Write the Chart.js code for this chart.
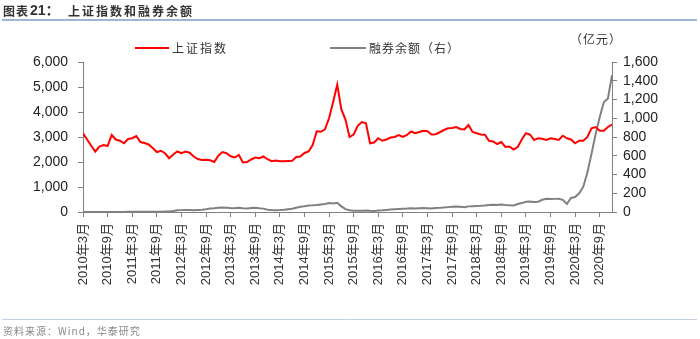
<!DOCTYPE html>
<html>
<head>
<meta charset="utf-8">
<title>上证指数和融券余额</title>
<script src="https://cdn.jsdelivr.net/npm/chart.js@4.4.0/dist/chart.umd.min.js"></script>
<style>
  body { margin: 0; background: #fff; }
  canvas { display: block; }
</style>
</head>
<body>
<canvas id="line_graph" width="700" height="339"></canvas>
<script>
// etichette dell'asse x (una ogni 6 mesi, da 2010年3月)
var tickLabels = [
  "2010年3月", "2010年9月", "2011年3月", "2011年9月", "2012年3月", "2012年9月",
  "2013年3月", "2013年9月", "2014年3月", "2014年9月", "2015年3月", "2015年9月",
  "2016年3月", "2016年9月", "2017年3月", "2017年9月", "2018年3月", "2018年9月",
  "2019年3月", "2019年9月", "2020年3月", "2020年9月"
];
var monthsPerTick = 6;

// 上证指数, un valore al mese da 2010-03 a 2020-12
var indexValues = [
  3150, 2900, 2650, 2420, 2620, 2680, 2640, 3080, 2900, 2850,
  2750, 2920, 2950, 3040, 2800, 2760, 2700, 2560, 2400, 2450, 2350, 2150,
  2300, 2420, 2350, 2420, 2370, 2220, 2120, 2080, 2090, 2070, 2000, 2250,
  2400, 2350, 2230, 2180, 2280, 1980, 2000, 2100, 2180, 2150, 2220, 2110,
  2030, 2060, 2030, 2030, 2040, 2050, 2200, 2220, 2360, 2420, 2680, 3230,
  3210, 3310, 3750, 4400, 5100, 4100, 3700, 3000, 3100, 3450, 3600, 3550,
  2750, 2780, 2950, 2850, 2900, 2980, 3000, 3080, 3000, 3080, 3220, 3150,
  3200, 3250, 3230, 3100, 3110, 3190, 3280, 3350, 3360, 3400, 3320, 3300,
  3480, 3200, 3150, 3100, 3090, 2850, 2820, 2720, 2800, 2600, 2620, 2500,
  2600, 2900, 3150, 3100, 2880, 2950, 2930, 2880, 2950, 2920, 2880, 3050,
  2950, 2900, 2750, 2850, 2850, 3000, 3350, 3400, 3250, 3250, 3400, 3500
];

// 融券余额 (亿元), stessi mesi
var shortValues = [
  0, 0.2, 0.3, 0.5, 0.6, 0.5, 0.7, 0.9, 1.1, 1.0,
  1.3, 1.6, 1.8, 2.1, 2.0, 2.4, 2.9, 3.2, 3.5, 4, 5, 6,
  10, 18, 20, 22, 21, 20, 22, 24, 30, 38, 40, 45,
  48, 46, 42, 40, 44, 40, 38, 42, 45, 40, 36, 25,
  22, 20, 22, 25, 30, 35, 45, 55, 62, 70, 72, 75,
  80, 85, 95, 90, 98, 60, 30, 18, 14, 13, 14, 15,
  13, 12, 15, 18, 22, 26, 30, 33, 35, 37, 40, 38,
  40, 42, 40, 38, 42, 44, 48, 52, 55, 58, 56, 52,
  60, 62, 64, 66, 70, 75, 78, 76, 80, 75, 72, 70,
  85, 95, 110, 112, 108, 110, 130, 140, 138, 140, 142, 130,
  85, 150, 160, 200, 270, 420, 620, 830, 1010, 1170, 1210, 1460
];

var cjk = '"Noto Sans CJK SC", sans-serif';
var latin = '"Liberation Sans", "Noto Sans CJK SC", sans-serif';

//funzione per trasformare i valori in punti {x, y}
function toPoints(values) {
  var points = [];
  for (var i = 0; i < values.length; i++) {
    points.push({ x: i, y: values[i] });
  }
  return points;
}

//funzione per scrivere un testo con spaziatura
function spacedText(ctx, text, x, y, font, color, spacing) {
  ctx.font = font;
  ctx.fillStyle = color;
  ctx.letterSpacing = spacing + "px";
  ctx.fillText(text, x, y);
  ctx.letterSpacing = "0px";
}

//plugin per titolo, legenda e fonte
var decorations = {
  id: "decorations",
  afterDraw: function(chart) {
    var ctx = chart.ctx;
    ctx.save();
    ctx.textBaseline = "middle";
    ctx.textAlign = "left";

    // titolo
    spacedText(ctx, "图表", 3, 11, "bold 12px " + cjk, "#333", 1);
    spacedText(ctx, "21：", 30, 11, "bold 14px " + latin, "#333", 0);
    spacedText(ctx, "上证指数和融券余额", 68, 11, "bold 12px " + cjk, "#333", 2);

    ctx.strokeStyle = "#7f9cc8";
    ctx.lineWidth = 1.5;
    ctx.beginPath();
    ctx.moveTo(2, 20);
    ctx.lineTo(697, 20);
    ctx.stroke();

    // legenda
    ctx.lineWidth = 2;
    ctx.strokeStyle = "#ff0000";
    ctx.beginPath();
    ctx.moveTo(135, 48);
    ctx.lineTo(169, 48);
    ctx.stroke();
    spacedText(ctx, "上证指数", 172, 48, "12px " + cjk, "#333", 2);

    ctx.strokeStyle = "#808080";
    ctx.beginPath();
    ctx.moveTo(330, 48);
    ctx.lineTo(366, 48);
    ctx.stroke();
    spacedText(ctx, "融券余额（右）", 369, 48, "12px " + cjk, "#333", 1);

    spacedText(ctx, "（亿元）", 570, 39, "12px " + cjk, "#333", 1);

    // fonte
    ctx.strokeStyle = "#c3d1e3";
    ctx.lineWidth = 1;
    ctx.beginPath();
    ctx.moveTo(2, 319.5);
    ctx.lineTo(697, 319.5);
    ctx.stroke();
    spacedText(ctx, "资料来源：Wind，华泰研究", 3, 331, "10px " + cjk, "#888", 1);

    ctx.restore();
  }
};

//funzione per stampare il grafico
function printLineGraph() {
  var ctxLine = document.getElementById("line_graph").getContext("2d");

  var lineGraph = new Chart(ctxLine, {
    type: "line",
    data: {
      datasets: [{
        label: "上证指数",
        data: toPoints(indexValues),
        borderColor: "#ff0000",
        borderWidth: 2,
        yAxisID: "y"
      }, {
        label: "融券余额（右）",
        data: toPoints(shortValues),
        borderColor: "#808080",
        borderWidth: 2,
        yAxisID: "y1"
      }]
    },
    options: {
      responsive: false,
      animation: false,
      parsing: false,
      layout: { padding: { left: 0, right: 0, top: 62, bottom: 47 } },
      elements: { point: { radius: 0 }, line: { tension: 0 } },
      plugins: { legend: { display: false }, tooltip: { enabled: false } },
      scales: {
        x: {
          type: "linear",
          min: 0,
          max: indexValues.length - 1,
          afterFit: function(scale) { scale.height = 80; },
          border: { display: true, color: "#808080" },
          grid: { drawOnChartArea: false, drawTicks: true, tickLength: 5, color: "#808080" },
          ticks: {
            stepSize: monthsPerTick,
            includeBounds: false,
            autoSkip: false,
            minRotation: 90,
            maxRotation: 90,
            padding: 6,
            color: "#333",
            font: { family: latin, size: 13 },
            callback: function(value) {
              return tickLabels[value / monthsPerTick];
            }
          }
        },
        y: {
          position: "left",
          min: 0,
          max: 6000,
          afterFit: function(scale) { scale.width = 83; },
          border: { display: true, color: "#808080" },
          grid: { drawOnChartArea: false, drawTicks: true, tickLength: 5, color: "#808080" },
          ticks: {
            stepSize: 1000,
            autoSkip: false,
            padding: 10,
            color: "#222",
            font: { family: latin, size: 14 },
            callback: function(value) { return value.toLocaleString("en-US"); }
          }
        },
        y1: {
          position: "right",
          min: 0,
          max: 1600,
          afterFit: function(scale) { scale.width = 88; },
          border: { display: true, color: "#808080" },
          grid: { drawOnChartArea: false, drawTicks: true, tickLength: 5, color: "#808080" },
          ticks: {
            stepSize: 200,
            autoSkip: false,
            padding: 6,
            color: "#222",
            font: { family: latin, size: 14 },
            callback: function(value) { return value.toLocaleString("en-US"); }
          }
        }
      }
    },
    plugins: [decorations]
  });
}

printLineGraph();
</script>
</body>
</html>
